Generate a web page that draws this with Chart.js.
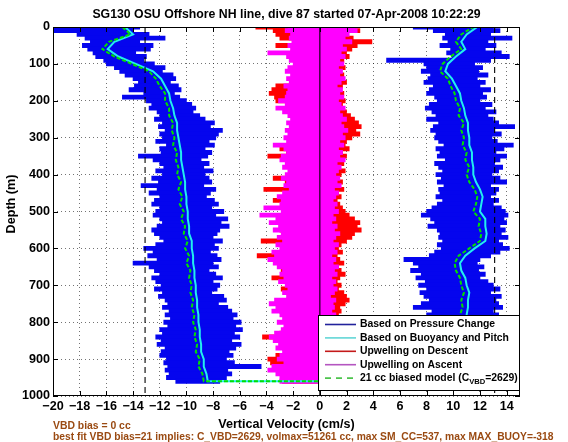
<!DOCTYPE html>
<html>
<head>
<meta charset="utf-8">
<script src="https://cdn.jsdelivr.net/npm/chart.js@4.4.1/dist/chart.umd.min.js"></script>
<style>
  html, body { margin: 0; padding: 0; background: #fff; }
</style>
</head>
<body>
<canvas id="dive-chart" width="568" height="442"></canvas>
<script>
// depth bins (m) for the noisy profiles
const depths = [
  0, 10, 20, 30, 40, 50, 60, 70, 80, 90,
  100, 110, 120, 130, 140, 150, 160, 170, 180, 190,
  200, 210, 220, 230, 240, 250, 260, 270, 280, 290,
  300, 310, 320, 330, 340, 350, 360, 370, 380, 390,
  400, 410, 420, 430, 440, 450, 460, 470, 480, 490,
  500, 510, 520, 530, 540, 550, 560, 570, 580, 590,
  600, 610, 620, 630, 640, 650, 660, 670, 680, 690,
  700, 710, 720, 730, 740, 750, 760, 770, 780, 790,
  800, 810, 820, 830, 840, 850, 860, 870, 880, 890,
  900, 910, 920, 930, 940, 950, 960
];
// coarser depth grid for the smoother model curves
const modelDepths = [
  0, 20, 40, 60, 80, 100, 120, 140, 160, 180,
  200, 220, 240, 260, 280, 300, 320, 340, 360, 380,
  400, 420, 440, 460, 480, 500, 520, 540, 560, 580,
  600, 620, 640, 660, 680, 700, 720, 740, 760, 780,
  800, 820, 840, 860, 880, 900, 920, 940, 960
];

// pressure-change velocity, spread per bin (cm/s)
const pressDownLo = [
  -20, -20, -18.2, -17.6, -17.2, -17.8, -17.4, -17.0, -16.8, -16.2,
  -16.0, -15.4, -15.0, -14.6, -14.0, -13.6, -13.9, -14.3, -13.2, -14.8,
  -13.0, -12.6, -12.8, -12.2, -12.0, -12.4, -11.8, -12.1, -11.6, -12.0,
  -11.8, -12.3, -11.5, -12.0, -11.9, -13.6, -12.5, -12.0, -11.7, -12.3,
  -11.8, -12.6, -12.1, -13.4, -12.2, -12.8, -12.0, -12.4, -12.6, -12.0,
  -12.3, -12.5, -12.0, -11.8, -12.2, -12.6, -12.4, -12.0, -11.7, -12.3,
  -13.2, -12.5, -12.9, -12.2, -14.0, -12.8, -12.4, -12.0, -12.6, -12.3,
  -11.9, -12.4, -11.8, -12.1, -11.6, -11.4, -11.8, -11.3, -11.6, -11.2,
  -11.7, -11.4, -12.0, -11.8, -12.3, -11.9, -12.2, -11.6, -11.9, -12.0,
  -11.5, -11.7, -11.4, -11.6, -11.3, -11.5, -10.8
];
const pressDownHi = [
  -13.5, -14.0, -12.8, -11.6, -13.5, -12.5, -12.7, -13.8, -13.0, -13.2,
  -12.4, -11.6, -11.8, -11.0, -10.8, -11.2, -10.6, -10.4, -10.9, -10.5,
  -10.0, -9.6, -9.3, -9.5, -9.0, -8.6, -7.9, -8.2, -7.3, -7.6,
  -7.8, -8.3, -7.9, -8.6, -8.1, -8.4, -8.9, -8.3, -8.7, -8.0,
  -8.6, -8.3, -8.1, -8.7, -7.8, -8.2, -8.5, -7.9, -7.6, -8.1,
  -7.2, -7.8, -6.9, -7.4, -6.8, -7.5, -7.7, -8.0, -7.3, -7.9,
  -7.6, -8.2, -7.7, -7.4, -8.0, -7.6, -8.3, -7.8, -7.3, -8.0,
  -7.5, -7.7, -8.1, -7.2, -7.0, -7.6, -6.9, -6.6, -6.2, -6.5,
  -5.9, -6.3, -5.8, -6.4, -6.0, -6.6, -5.9, -6.3, -6.8, -6.5,
  -7.0, -6.4, -4.4, -6.9, -6.6, -7.0, -7.5
];
const pressUpLo = [
  7.0, 8.5, 9.4, 9.2, 9.6, 9.0, 9.8, 9.5, 9.9, 5.0,
  7.8, 8.0, 7.6, 8.3, 8.1, 7.8, 8.5, 8.2, 8.0, 8.6,
  8.8, 8.2, 7.9, 8.4, 8.7, 8.0, 8.9, 8.5, 8.3, 8.7,
  8.6, 8.9, 9.3, 8.7, 9.0, 8.8, 9.4, 8.6, 8.9, 9.2,
  8.7, 9.1, 8.8, 9.3, 8.9, 9.0, 8.7, 9.2, 8.8, 8.4,
  8.0, 7.6, 8.3, 8.6, 8.1, 8.8, 9.0, 8.9, 9.2, 8.8,
  9.1, 8.6, 8.2, 6.3, 7.0, 7.4, 6.8, 7.6, 7.2, 7.9,
  7.4, 8.0, 7.5, 7.8, 8.2, 7.6, 7.0, 8.4, 8.0, 8.6,
  8.2, 8.8, 8.4, 8.9, 8.5, 8.7, 8.3, 8.8, 8.6, 8.9,
  8.4, 8.7, 8.5, 8.8, 8.6, 8.9, 8.7
];
const pressUpHi = [
  13.0, 13.5, 12.8, 14.4, 12.6, 13.2, 12.4, 13.6, 14.2, 12.8,
  11.6, 12.2, 11.9, 12.6, 11.8, 12.4, 12.0, 12.8, 12.2, 12.5,
  12.0, 12.9, 12.4, 13.2, 12.6, 13.0, 13.4, 14.6, 13.1, 13.6,
  12.9, 13.3, 14.5, 13.8, 13.2, 14.0, 13.5, 13.1, 13.7, 13.4,
  12.9, 13.5, 14.0, 12.8, 13.4, 13.2, 12.8, 13.4, 13.0, 13.6,
  13.9, 14.1, 13.8, 14.0, 13.5, 13.9, 13.6, 14.1, 13.4, 13.7,
  14.2, 13.5, 12.8, 12.0, 11.8, 12.3, 11.9, 12.4, 12.0, 12.6,
  13.0, 13.5, 12.8, 13.6, 13.2, 13.4, 13.7, 13.0, 13.4, 12.9,
  13.3, 12.8, 13.2, 12.9, 13.4, 13.0, 12.7, 13.1, 12.8, 13.2,
  12.9, 13.1, 12.7, 13.0, 12.8, 12.6, 12.4
];

// buoyancy/pitch velocity and the 21 cc biased model (cm/s)
const buoyDown = [
  -14.6, -14.0, -15.4, -15.9, -15.1, -13.8, -12.5, -11.9, -11.6, -11.3,
  -11.2, -11.0, -10.9, -10.7, -10.7, -10.6, -10.5, -10.4, -10.4, -10.3,
  -10.2, -10.1, -10.1, -10.0, -10.0, -9.9, -9.9, -9.8, -9.8, -9.6,
  -9.6, -9.5, -9.5, -9.4, -9.4, -9.3, -9.3, -9.2, -9.2, -9.1,
  -9.1, -9.0, -9.0, -8.9, -8.9, -8.7, -8.7, -8.5, -8.4
];
const buoyUp = [
  11.8, 11.0, 10.6, 10.9, 10.2, 9.6, 9.4, 9.9, 10.2, 10.5,
  10.6, 10.8, 10.9, 11.1, 11.1, 11.2, 11.2, 11.4, 11.4, 11.5,
  11.5, 11.7, 12.0, 12.2, 12.1, 12.0, 12.4, 12.4, 12.5, 12.4,
  11.6, 10.9, 10.5, 10.6, 10.9, 11.0, 11.2, 11.1, 11.1, 11.0,
  11.0, 10.9, 10.9, 10.8, 10.8, 10.7, 10.7, 10.5, 10.4
];
const modelDown = [
  -14.8, -14.2, -15.8, -16.3, -15.4, -14.1, -12.8, -12.3, -12.0, -11.6,
  -11.6, -11.3, -11.3, -11.0, -11.1, -10.9, -11.0, -10.7, -10.8, -10.6,
  -10.7, -10.4, -10.6, -10.3, -10.5, -10.2, -10.4, -10.1, -10.2, -9.9,
  -10.1, -9.8, -10.0, -9.7, -9.8, -9.6, -9.7, -9.5, -9.6, -9.4,
  -9.5, -9.3, -9.4, -9.2, -9.3, -9.0, -9.1, -8.8, -8.7
];
const modelUp = [
  11.5, 10.6, 10.2, 10.6, 9.8, 9.2, 9.0, 9.6, 9.8, 10.1,
  10.2, 10.5, 10.4, 10.8, 10.6, 10.8, 10.7, 11.0, 10.9, 11.2,
  11.0, 11.2, 11.6, 11.8, 11.7, 11.5, 12.0, 11.9, 12.1, 12.0,
  11.2, 10.4, 10.1, 10.2, 10.5, 10.6, 10.8, 10.6, 10.7, 10.5,
  10.6, 10.4, 10.5, 10.3, 10.4, 10.2, 10.3, 10.1, 10.0
];

// upwelling estimates, spread per bin (cm/s)
const upDescLo = [
  -4.8, -3.5, -3.3, -3.0, -2.0, -3.3, -2.0, -2.2, -1.8, -2.0,
  -1.8, -2.0, -1.9, -2.1, -2.0, -2.2, -3.3, -3.6, -3.8, -3.4,
  -3.3, -2.5, -2.3, -2.0, -2.2, -2.1, -1.9, -2.2, -2.0, -2.3,
  -2.1, -2.2, -2.0, -3.0, -2.5, -3.9, -2.4, -2.2, -2.3, -2.1,
  -2.0, -3.5, -2.6, -2.5, -4.2, -2.6, -2.4, -3.5, -2.7, -2.6,
  -2.8, -2.5, -2.7, -2.9, -2.6, -3.0, -2.7, -2.8, -4.4, -2.9,
  -2.6, -3.0, -4.7, -3.2, -2.8, -2.7, -2.9, -2.6, -3.6, -2.8,
  -2.4, -2.9, -2.2, -2.1, -2.5, -2.8, -2.6, -3.0, -2.7, -2.5,
  -2.6, -2.4, -2.7, -3.0, -4.3, -2.9, -2.7, -2.8, -2.5, -3.3,
  -3.9, -3.7, -3.0, -2.6, -2.9, -2.5, -2.8
];
const upDescHi = [
  2.0, 3.0, 2.0, 2.5, 3.9, 2.8, 2.4, 2.0, 2.2, 1.8,
  1.6, 1.9, 1.5, 1.8, 1.6, 2.0, 1.7, 1.5, 1.8, 1.6,
  1.9, 1.7, 1.6, 2.0, 2.3, 2.6, 2.9, 3.1, 2.7, 3.0,
  2.4, 2.0, 1.9, 2.2, 1.7, 2.0, 1.6, 1.8, 1.5, 1.9,
  1.6, 1.4, 1.7, 1.5, 1.8, 1.4, 1.6, 1.3, 1.5, 1.7,
  1.9, 2.2, 2.6, 3.0, 2.8, 3.1, 2.6, 2.4, 2.0, 1.6,
  1.4, 1.7, 1.3, 1.5, 1.8, 1.4, 1.6, 1.9, 1.5, 1.3,
  1.6, 1.4, 1.8, 2.0, 2.2, 1.9, 1.5, 1.6, 1.4, 1.5,
  1.3, 1.6, 1.4, 1.5, 1.3, 1.6, 1.4, 1.5, 1.3, 1.4,
  1.6, 1.3, 1.5, 1.4, 1.3, 1.5, 1.2
];
const upAscLo = [
  -2.4, -2.6, -2.2, -2.3, -2.1, -2.4, -2.2, -3.9, -2.5, -2.3,
  -2.0, -2.4, -2.6, -2.2, -2.5, -2.3, -2.7, -2.4, -2.5, -2.6,
  -3.1, -2.6, -3.3, -2.8, -2.4, -2.2, -2.5, -2.3, -2.6, -2.4,
  -2.7, -2.5, -3.5, -2.7, -2.5, -2.9, -3.0, -2.6, -2.8, -2.4,
  -2.6, -2.9, -2.5, -2.7, -2.3, -2.8, -3.2, -2.9, -3.0, -4.2,
  -2.9, -4.5, -3.3, -3.8, -3.1, -3.5, -2.9, -3.2, -2.8, -3.3,
  -3.0, -3.6, -3.4, -3.9, -3.5, -3.2, -2.8, -3.0, -2.7, -3.1,
  -2.6, -2.4, -2.8, -2.5, -3.4, -3.8, -3.3, -3.6, -3.0, -2.8,
  -3.2, -2.7, -2.9, -3.4, -3.8, -3.5, -3.1, -3.3, -2.8, -3.0,
  -3.2, -2.7, -3.6, -3.9, -3.3, -3.0, -3.0
];
const upAscHi = [
  2.6, 2.8, 2.2, 1.9, 2.4, 1.7, 2.0, 1.6, 1.9, 1.5,
  1.8, 1.4, 1.7, 1.5, 1.9, 1.6, 1.3, 1.7, 1.5, 1.8,
  1.4, 1.6, 1.9, 1.5, 1.7, 2.0, 1.6, 1.8, 2.1, 1.7,
  1.9, 1.5, 1.8, 1.4, 1.7, 1.5, 1.9, 1.3, 1.6, 1.4,
  1.2, 1.5, 1.3, 1.6, 1.1, 1.4, 1.2, 1.0, 1.3, 1.1,
  1.4, 1.0, 1.2, 0.9, 1.3, 1.1, 1.5, 1.2, 1.0, 1.4,
  1.1, 1.3, 0.9, 1.2, 1.0, 1.4, 1.1, 1.3, 0.9, 1.2,
  1.0, 1.3, 1.1, 0.8, 1.2, 1.0, 1.1, 0.9, 1.2, 1.0,
  1.1, 0.9, 1.2, 1.0, 1.1, 0.9, 1.2, 1.0, 1.1, 0.9,
  1.0, 1.2, 0.9, 1.1, 1.0, 0.9, 1.0
];

// vertical reference lines (cm/s)
const limitLines = [-13.1, 13.1];
const zeroLine = 0;

const FONT = "'Liberation Sans', Arial, Helvetica, sans-serif";
const tickFont = { family: FONT, size: 12.6, weight: "bold" };

function bandPoints(lo, hi) {
  return depths.map((d, i) => ({ x: [lo[i], hi[i]], y: d }));
}

// down on the descent values, back up on the ascent values
function divePath(down, up) {
  const pts = modelDepths.map((d, i) => ({ x: down[i], y: d }));
  for (let i = modelDepths.length - 1; i >= 0; i--) {
    pts.push({ x: up[i], y: modelDepths[i] });
  }
  return pts;
}

function band(lo, hi, color, order) {
  return {
    type: "bar",
    data: bandPoints(lo, hi),
    backgroundColor: color,
    borderWidth: 0,
    borderSkipped: false,
    barThickness: 4.2,
    grouped: false,
    order: order,
  };
}

function vline(x, dash, order) {
  return {
    type: "line",
    data: [{ x: x, y: 0 }, { x: x, y: 1000 }],
    borderColor: "#000",
    borderWidth: 1.1,
    borderDash: dash,
    pointRadius: 0,
    order: order,
  };
}

const legendRows = [
  { color: "#22229c", dash: [], text: "Based on Pressure Change" },
  { color: "#62d6d6", dash: [], text: "Based on Buoyancy and Pitch" },
  { color: "#c41a1a", dash: [], text: "Upwelling on Descent" },
  { color: "#b455c0", dash: [], text: "Upwelling on Ascent" },
  { color: "#4cc44c", dash: [6, 5], text: "21 cc biased model (C", sub: "VBD", tail: "=2629)" },
];

const decorations = {
  id: "decorations",
  afterDraw(chart) {
    const { ctx, chartArea: a, scales } = chart;
    const xs = scales.x;
    const ys = scales.y;
    ctx.save();

    // axes box and inward ticks
    ctx.strokeStyle = "#000";
    ctx.lineWidth = 1;
    ctx.strokeRect(a.left + 0.5, a.top + 0.5, a.right - a.left - 1, a.bottom - a.top - 1);
    ctx.beginPath();
    xs.ticks.forEach((t) => {
      const px = Math.round(xs.getPixelForValue(t.value)) + 0.5;
      ctx.moveTo(px, a.bottom);
      ctx.lineTo(px, a.bottom - 5);
      ctx.moveTo(px, a.top);
      ctx.lineTo(px, a.top + 5);
    });
    ys.ticks.forEach((t) => {
      const py = Math.round(ys.getPixelForValue(t.value)) + 0.5;
      ctx.moveTo(a.left, py);
      ctx.lineTo(a.left + 5, py);
      ctx.moveTo(a.right, py);
      ctx.lineTo(a.right - 5, py);
    });
    ctx.stroke();

    // legend box, lower right
    const lx = 318, ly = 315, lw = 202, lh = 76;
    ctx.fillStyle = "#fff";
    ctx.fillRect(lx, ly, lw, lh);
    ctx.strokeRect(lx + 0.5, ly + 0.5, lw - 1, lh - 1);
    ctx.textBaseline = "middle";
    ctx.textAlign = "left";
    legendRows.forEach((row, i) => {
      const ry = ly + 9.5 + i * 13.4;
      ctx.strokeStyle = row.color;
      ctx.lineWidth = 1.6;
      ctx.setLineDash(row.dash);
      ctx.beginPath();
      ctx.moveTo(lx + 7, ry);
      ctx.lineTo(lx + 38, ry);
      ctx.stroke();
      ctx.setLineDash([]);
      ctx.fillStyle = "#000";
      ctx.font = "bold 10.4px " + FONT;
      let tx = lx + 42;
      ctx.fillText(row.text, tx, ry);
      if (row.sub) {
        tx += ctx.measureText(row.text).width;
        ctx.font = "bold 7.6px " + FONT;
        ctx.fillText(row.sub, tx, ry + 4);
        tx += ctx.measureText(row.sub).width;
        ctx.font = "bold 10.4px " + FONT;
        ctx.fillText(row.tail, tx, ry);
      }
    });

    // titles
    const cx = (a.left + a.right) / 2;
    ctx.fillStyle = "#000";
    ctx.textAlign = "center";
    ctx.font = "bold 12.3px " + FONT;
    ctx.fillText("SG130 OSU Offshore NH line, dive 87 started 07-Apr-2008 10:22:29", cx, 15);
    ctx.font = "bold 12.6px " + FONT;
    ctx.fillText("Vertical Velocity (cm/s)", cx, 425);
    ctx.save();
    ctx.translate(12, 204);
    ctx.rotate(-Math.PI / 2);
    ctx.fillText("Depth (m)", 0, 0);
    ctx.restore();

    // fit summary underneath
    ctx.textAlign = "left";
    ctx.fillStyle = "#9a4a12";
    ctx.font = "bold 10.4px " + FONT;
    ctx.fillText("VBD bias = 0 cc", 53, 426);
    const note = "best fit VBD bias=21 implies: C_VBD=2629, volmax=51261 cc, max SM_CC=537, max MAX_BUOY=-318";
    const w = ctx.measureText(note).width;
    const size = Math.min(10.4, 10.4 * 500 / w);
    ctx.font = "bold " + size.toFixed(2) + "px " + FONT;
    ctx.textBaseline = "alphabetic";
    ctx.fillText(note, 53, 439.5);
    ctx.restore();
  },
};

new Chart("dive-chart", {
  type: "bar",
  data: {
    datasets: [
      band(pressDownLo, pressDownHi, "#0505ee", 9),
      band(pressUpLo, pressUpHi, "#0505ee", 9),
      band(upDescLo, upDescHi, "#ff0000", 8),
      band(upAscLo, upAscHi, "#ff00ff", 7),
      {
        type: "line",
        data: divePath(buoyDown, buoyUp),
        borderColor: "#22eeee",
        borderWidth: 2,
        pointRadius: 0,
        order: 6,
      },
      {
        type: "line",
        data: divePath(modelDown, modelUp),
        borderColor: "#00e000",
        borderWidth: 2,
        borderDash: [4, 2],
        pointRadius: 0,
        order: 5,
      },
      vline(limitLines[0], [6, 4], 3),
      vline(limitLines[1], [6, 4], 3),
      vline(zeroLine, [], 2),
    ],
  },
  options: {
    responsive: false,
    animation: false,
    events: [],
    indexAxis: "y",
    layout: { padding: { top: 27, right: 48, left: 0, bottom: 0 } },
    plugins: {
      legend: { display: false },
      title: { display: false },
      tooltip: { enabled: false },
    },
    scales: {
      x: {
        type: "linear",
        position: "bottom",
        min: -20,
        max: 15,
        ticks: {
          stepSize: 2,
          includeBounds: false,
          color: "#000",
          font: tickFont,
          padding: 3,
          maxRotation: 0,
          autoSkip: false,
          callback: (v) => String(v).replace("-", "\u2212"),
        },
        grid: { color: "rgba(0,0,0,0.55)", lineWidth: 1, drawTicks: false },
        border: { display: false, dash: [1, 3] },
        afterFit: (s) => { s.height = 46; },
      },
      y: {
        type: "linear",
        reverse: true,
        offset: false,
        min: 0,
        max: 1000,
        ticks: {
          stepSize: 100,
          color: "#000",
          font: tickFont,
          padding: 3,
          autoSkip: false,
          callback: (v) => String(v),
        },
        grid: { color: "rgba(0,0,0,0.55)", lineWidth: 1, drawTicks: false, offset: false },
        border: { display: false, dash: [1, 3] },
        afterFit: (s) => { s.width = 53; },
      },
    },
  },
  plugins: [decorations],
});
</script>
</body>
</html>
